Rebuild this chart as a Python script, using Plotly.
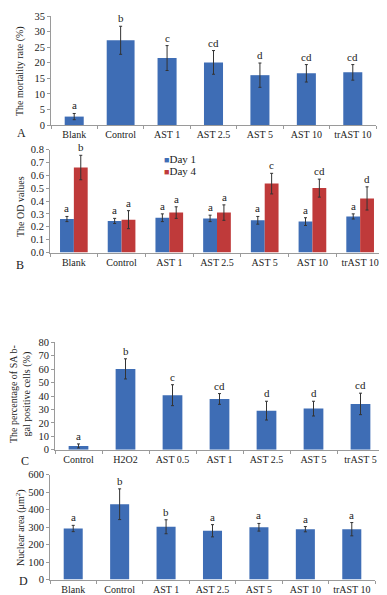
import plotly.graph_objects as go

# ---------------- data ----------------
cats_a = ["Blank", "Control", "AST 1", "AST 2.5", "AST 5", "AST 10", "trAST 10"]
mortality = [2.7, 27.2, 21.5, 20.1, 16.0, 16.6, 16.9]
mortality_err = [1.0, 4.5, 4.0, 3.8, 3.9, 2.8, 2.5]
mortality_sig = ["a", "b", "c", "cd", "d", "cd", "cd"]

cats_b = ["Blank", "Control", "AST 1", "AST 2.5", "AST 5", "AST 10", "trAST 10"]
od_day1 = [0.26, 0.245, 0.27, 0.265, 0.25, 0.24, 0.28]
od_day1_err = [0.02, 0.02, 0.03, 0.025, 0.03, 0.03, 0.02]
od_day4 = [0.66, 0.255, 0.31, 0.31, 0.535, 0.50, 0.42]
od_day4_err = [0.095, 0.07, 0.045, 0.06, 0.08, 0.07, 0.09]
od_day1_sig = ["a", "a", "a", "a", "a", "a", "a"]
od_day4_sig = ["b", "a", "a", "a", "c", "cd", "d"]
series_names = ["Day 1", "Day 4"]

cats_c = ["Control", "H2O2", "AST 0.5", "AST 1", "AST 2.5", "AST 5", "trAST 5"]
sabgal = [2.8, 60.2, 40.6, 37.8, 29.1, 30.6, 34.1]
sabgal_err = [1.5, 7.5, 7.8, 4.0, 7.0, 5.5, 8.0]
sabgal_sig = ["a", "b", "c", "cd", "d", "d", "cd"]

cats_d = ["Blank", "Control", "AST 1", "AST 2.5", "AST 5", "AST 10", "trAST 10"]
nuclear = [292, 431, 302, 279, 299, 288, 288]
nuclear_err = [18, 88, 40, 35, 22, 15, 38]
nuclear_sig = ["a", "b", "b", "a", "a", "a", "a"]

# ---------------- style ----------------
W, H = 387, 595
BLUE = "#3E6DB5"
RED = "#BF3A3A"
FONT = "Liberation Serif"
TXT = "#222222"
AX = "#9a9a9a"
ERR = dict(type="data", thickness=1, width=1.5, color="#333333")
XTICKF = dict(family=FONT, size=10, color=TXT)
YTICKF = dict(family=FONT, size=10.5, color=TXT)

def px_x(p):
    return p / W

def px_y(p):
    return 1 - p / H

fig = go.Figure()

# A
fig.add_trace(go.Bar(x=cats_a, y=mortality, width=[0.41, 0.6, 0.41, 0.41, 0.41, 0.41, 0.41],
                     marker=dict(color=BLUE, line=dict(width=0)),
                     error_y=dict(array=mortality_err, **ERR),
                     xaxis="x", yaxis="y", showlegend=False))
# B
fig.add_trace(go.Bar(x=cats_b, y=od_day1, width=0.29, offset=-0.29, name=series_names[0],
                     marker=dict(color=BLUE, line=dict(width=0)),
                     error_y=dict(array=od_day1_err, **ERR),
                     xaxis="x2", yaxis="y2", showlegend=False))
fig.add_trace(go.Bar(x=cats_b, y=od_day4, width=0.29, offset=0.0, name=series_names[1],
                     marker=dict(color=RED, line=dict(width=0)),
                     error_y=dict(array=od_day4_err, **ERR),
                     xaxis="x2", yaxis="y2", showlegend=False))
# C
fig.add_trace(go.Bar(x=cats_c, y=sabgal, width=0.42,
                     marker=dict(color=BLUE, line=dict(width=0)),
                     error_y=dict(array=sabgal_err, **ERR),
                     xaxis="x3", yaxis="y3", showlegend=False))
# D
fig.add_trace(go.Bar(x=cats_d, y=nuclear, width=0.41,
                     marker=dict(color=BLUE, line=dict(width=0)),
                     error_y=dict(array=nuclear_err, **ERR),
                     xaxis="x4", yaxis="y4", showlegend=False))

def xax(dom, anchor):
    return dict(domain=dom, anchor=anchor, type="category", showline=True, linecolor=AX,
                linewidth=1, ticks="outside", tickson="boundaries", ticklen=3, tickcolor=AX,
                showgrid=False, zeroline=False, tickfont=XTICKF, tickangle=0,
                fixedrange=True, automargin=False)

def yax(dom, anchor, rng, dtick, fmt=None):
    d = dict(domain=dom, anchor=anchor, range=rng, dtick=dtick, tick0=0, showline=True,
             linecolor=AX, linewidth=1, ticks="outside", ticklen=3, tickcolor=AX,
             showgrid=False, zeroline=False, tickfont=YTICKF, fixedrange=True,
             automargin=False)
    if fmt:
        d["tickformat"] = fmt
    return d

dom_a = ([px_x(43), px_x(368)], [px_y(117), px_y(8)])
dom_b = ([px_x(42), px_x(376)], [px_y(244.5), px_y(141.5)])
dom_c = ([px_x(47), px_x(376)], [px_y(441.7), px_y(334.3)])
dom_d = ([px_x(42), px_x(367)], [px_y(571.5), px_y(466.7)])

annotations = []

def sig_labels(cats, vals, errs, sigs, xref, yref, xshift=0):
    for c, v, e, s in zip(cats, vals, errs, sigs):
        annotations.append(dict(x=c, y=v + e, xref=xref, yref=yref, text=s, showarrow=False,
                                yanchor="bottom", xshift=xshift, yshift=0,
                                font=dict(family=FONT, size=11, color=TXT)))

sig_labels(cats_a, mortality, mortality_err, mortality_sig, "x", "y")
sig_labels(cats_b, od_day1, od_day1_err, od_day1_sig, "x2", "y2", xshift=-7)
sig_labels(cats_b, od_day4, od_day4_err, od_day4_sig, "x2", "y2", xshift=7)
sig_labels(cats_c, sabgal, sabgal_err, sabgal_sig, "x3", "y3")
sig_labels(cats_d, nuclear, nuclear_err, nuclear_sig, "x4", "y4")

def paper_text(x, y, text, size=10, angle=0, xanchor="center"):
    annotations.append(dict(x=px_x(x), y=px_y(y), xref="paper", yref="paper", text=text,
                            showarrow=False, textangle=angle, xanchor=xanchor, yanchor="middle",
                            font=dict(family=FONT, size=size, color=TXT)))

# y titles
paper_text(12, 63, "The mortality rate (%)", 10, -90)
paper_text(13, 199, "The OD values", 10, -90)
paper_text(12, 386, "The percentage of SA b-<br>gal positive cells (%)", 10, -90)
paper_text(12, 520, "Nuclear area (μm<sup>2</sup>)", 10, -90)
# panel letters
paper_text(13, 125, "A", 12)
paper_text(12, 257, "B", 12)
paper_text(17, 453, "C", 12)
paper_text(15, 573, "D", 12)

# manual legend for panel B
paper_text(154, 151, "<span style='color:%s;font-size:9px'>■</span>%s" % (BLUE, series_names[0]),
           11, 0, "left")
paper_text(154, 163, "<span style='color:%s;font-size:9px'>■</span>%s" % (RED, series_names[1]),
           11, 0, "left")

fig.update_layout(
    width=W, height=H, margin=dict(l=0, r=0, t=0, b=0),
    paper_bgcolor="white", plot_bgcolor="white",
    font=dict(family=FONT, size=10, color=TXT),
    barmode="group", showlegend=False,
    xaxis=xax(dom_a[0], "y"), yaxis=yax(dom_a[1], "x", [0, 35], 5),
    xaxis2=xax(dom_b[0], "y2"), yaxis2=yax(dom_b[1], "x2", [0, 0.8], 0.1, ".1f"),
    xaxis3=xax(dom_c[0], "y3"), yaxis3=yax(dom_c[1], "x3", [0, 80], 10),
    xaxis4=xax(dom_d[0], "y4"), yaxis4=yax(dom_d[1], "x4", [0, 600], 100),
    annotations=annotations,
)

fig.write_html("out.html")
